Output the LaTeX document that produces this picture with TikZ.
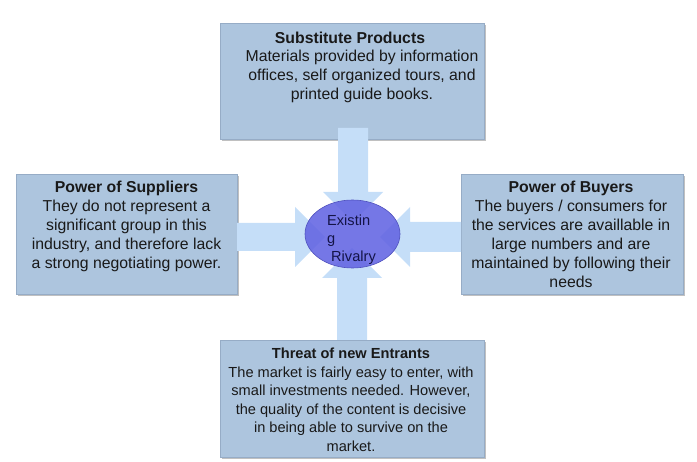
\documentclass[tikz,border=0pt]{standalone}
\usepackage{fontspec}
\setmainfont{Liberation Sans}
\usetikzlibrary{calc,shapes.geometric,shadows}
\definecolor{boxfill}{RGB}{173,197,222}
\definecolor{boxline}{RGB}{150,172,198}
\definecolor{arrowfill}{RGB}{197,222,248}
\definecolor{ellfill}{RGB}{98,100,226}
\definecolor{ellline}{RGB}{80,82,190}
\definecolor{txt}{RGB}{25,25,25}
\begin{document}
\begin{tikzpicture}[x=1pt,y=-1pt,
  box/.style={draw=boxline, line width=0.6pt, fill=boxfill, anchor=north west, inner sep=0pt,
    drop shadow={shadow xshift=1.5pt, shadow yshift=-1.5pt, opacity=0.45, fill=black!55}},
  blockarrow/.style={fill=arrowfill},
  boxtext/.style={align=center, inner sep=0pt, text=txt, font=\fontsize{15.8}{19}\selectfont, anchor=north},
  rivtext/.style={align=left, inner sep=0pt, text=txt!80!blue, font=\fontsize{14.6}{18}\selectfont, anchor=north west},
]
\useasboundingbox (0,0) rectangle (697,462);

% boxes
\node[box, minimum width=264pt, minimum height=116pt] (subst) at (220,23) {};
\node[box, minimum width=221pt, minimum height=120pt] (supp) at (16,174) {};
\node[box, minimum width=222pt, minimum height=120pt] (buy) at (461,174) {};
\node[box, minimum width=264pt, minimum height=117pt] (entr) at (220,340) {};

% block arrows
\fill[blockarrow] (338,128) -- (368,128) -- (368,192) -- (383,192) -- (353,222) -- (323,192) -- (338,192) -- cycle;
\fill[blockarrow] (337,340) -- (367,340) -- (367,278) -- (382,278) -- (352,248) -- (322,278) -- (337,278) -- cycle;
\fill[blockarrow] (237,223) -- (295,223) -- (295,207) -- (325,237) -- (295,267) -- (295,251) -- (237,251) -- cycle;
\fill[blockarrow] (461,222) -- (410,222) -- (410,207) -- (380,237) -- (410,267) -- (410,252) -- (461,252) -- cycle;

% central ellipse
\node[ellipse, draw=ellline, line width=0.6pt, fill=ellfill, fill opacity=0.88,
  minimum width=95pt, minimum height=68pt, inner sep=0pt] (rivalry) at (352.5,234) {};
\node[rivtext] (rivt) at (327,215) {Existin\\g\\\hspace*{4pt}Rivalry};

% texts
\node[boxtext, font=\fontsize{15.8}{19}\selectfont\bfseries] (substt) at (350,32) {Substitute Products};
\node[boxtext] (substb) at (362,50) {Materials provided by information\\offices, self organized tours, and\\printed guide books.};
\node[boxtext] (suppt) at (126.5,181) {\textbf{Power of Suppliers}\\They do not represent a\\significant group in this\\industry, and therefore lack\\a strong negotiating power.};
\node[boxtext] (buyt) at (571,181) {\textbf{Power of Buyers}\\The buyers / consumers for\\the services are availlable in\\large numbers and are\\maintained by following their\\needs};
\node[boxtext, font=\fontsize{14.6}{18.5}\selectfont] (entrt) at (351,348) {\textbf{Threat of new Entrants}\\The market is fairly easy to enter, with\\small investments needed. However,\\the quality of the content is decisive\\in being able to survive on the\\market.};
\end{tikzpicture}
\end{document}
